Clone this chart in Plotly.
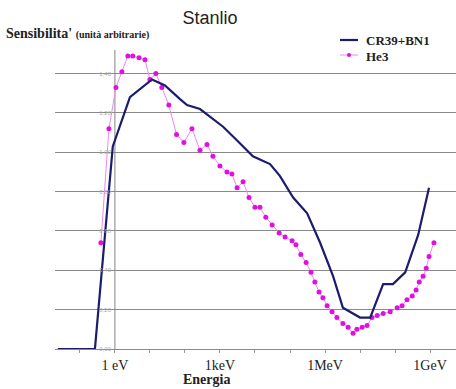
import plotly.graph_objects as go

# Energies as log10(E / eV)
cr39_logE = [-1.63, -0.57, -0.06, 0.43, 1.06, 1.43, 1.86, 2.06, 2.43, 3.09, 3.49, 3.94,
             4.43, 4.71, 5.09, 5.49, 5.86, 6.23, 6.51, 7.0, 7.29, 7.66, 7.94, 8.29, 8.66, 8.97]
cr39_sens = [0.0, 0.0, 1.03, 1.28, 1.37, 1.34, 1.27, 1.24, 1.22, 1.13, 1.06, 0.98,
             0.94, 0.88, 0.77, 0.69, 0.54, 0.37, 0.21, 0.16, 0.16, 0.33, 0.33, 0.39, 0.58, 0.82]

he3_logE = [-0.4, -0.17, 0.03, 0.2, 0.37, 0.51, 0.69, 0.86, 1.0, 1.17, 1.34, 1.54, 1.76, 1.97,
            2.2, 2.43, 2.63, 2.8, 3.0, 3.2, 3.34, 3.49, 3.66, 3.83, 4.0, 4.14, 4.31, 4.49,
            4.69, 4.86, 5.06, 5.17, 5.31, 5.46, 5.6, 5.71, 5.83, 5.94, 6.06, 6.2, 6.34, 6.51,
            6.66, 6.8, 6.91, 7.06, 7.2, 7.34, 7.49, 7.66, 7.86, 8.06, 8.2, 8.34, 8.49, 8.6,
            8.69, 8.8, 8.89, 8.97, 9.11]
he3_sens = [0.54, 1.12, 1.33, 1.41, 1.49, 1.49, 1.48, 1.47, 1.37, 1.40, 1.33, 1.24, 1.09, 1.05,
            1.12, 1.01, 1.04, 0.98, 0.93, 0.90, 0.89, 0.82, 0.85, 0.77, 0.72, 0.72, 0.67, 0.63,
            0.59, 0.57, 0.55, 0.53, 0.48, 0.44, 0.39, 0.34, 0.29, 0.26, 0.22, 0.19, 0.16, 0.13,
            0.11, 0.08, 0.10, 0.11, 0.12, 0.16, 0.17, 0.18, 0.19, 0.21, 0.22, 0.25, 0.27, 0.30,
            0.34, 0.37, 0.41, 0.47, 0.54]

series_names = ["CR39+BN1", "He3"]
x_tick_exps = [-1, 0, 1, 2, 3, 4, 5, 6, 7, 8, 9]
x_tick_text = ["", "1 eV", "", "", "1keV", "", "", "1MeV", "", "", "1GeV"]
y_tick_vals = [0.0, 0.2, 0.4, 0.6, 0.8, 1.0, 1.2, 1.4]

SERIF = "Liberation Serif"
CR_COLOR = "#1c1c6e"
HE_LINE = "#ee88ee"
HE_MARK = "#e010e0"

W, H = 456, 389
L, R, T, B = 55, 0, 50, 40
PW, PH = W - L - R, H - T - B

def px(xp):  # pixel x -> paper
    return (xp - L) / PW

def py(yp):  # pixel y -> paper
    return (H - B - yp) / PH

fig = go.Figure()
fig.add_trace(go.Scatter(
    x=[10 ** e for e in he3_logE], y=he3_sens, name=series_names[1], mode="lines+markers",
    line=dict(color=HE_LINE, width=1),
    marker=dict(color=HE_MARK, size=5, symbol="circle"),
))
fig.add_trace(go.Scatter(
    x=[10 ** e for e in cr39_logE], y=cr39_sens, name=series_names[0], mode="lines",
    line=dict(color=CR_COLOR, width=2.2),
))

# vertical axis line at 1 eV
fig.add_shape(type="line", xref="x", yref="paper", x0=1, x1=1, y0=0, y1=1,
              line=dict(color="#999999", width=1.2), layer="below")

# manual legend
fig.add_shape(type="line", xref="paper", yref="paper", x0=px(340), x1=px(358), y0=py(40), y1=py(40),
              line=dict(color=CR_COLOR, width=2.2))
fig.add_shape(type="line", xref="paper", yref="paper", x0=px(340), x1=px(358), y0=py(55), y1=py(55),
              line=dict(color=HE_LINE, width=1))
fig.add_shape(type="circle", xref="paper", yref="paper", x0=px(347), x1=px(351), y0=py(53), y1=py(57),
              fillcolor=HE_MARK, line=dict(color=HE_MARK, width=0))
fig.add_annotation(text="<b>" + series_names[0] + "</b>", xref="paper", yref="paper",
                   x=px(364), y=py(40), xanchor="left", yanchor="middle", showarrow=False,
                   font=dict(family=SERIF, size=13, color="#222222"))
fig.add_annotation(text="<b>" + series_names[1] + "</b>", xref="paper", yref="paper",
                   x=px(364), y=py(56), xanchor="left", yanchor="middle", showarrow=False,
                   font=dict(family=SERIF, size=13, color="#222222"))

fig.update_layout(
    width=W, height=H,
    margin=dict(l=L, r=R, t=T, b=B, autoexpand=False),
    plot_bgcolor="white", paper_bgcolor="white",
    separators=",.",
    title=dict(text="Stanlio", x=210 / W, xanchor="center", y=1 - 18 / H, yanchor="middle",
               font=dict(family="Liberation Sans", size=18, color="#222222")),
    showlegend=False,
    xaxis=dict(type="log", range=[-1.71, 9.74], tickvals=[10 ** e for e in x_tick_exps],
               ticktext=x_tick_text, ticks="outside", ticklen=3, tickcolor="#999999",
               showgrid=False, zeroline=False, showline=False, automargin=False,
               tickfont=dict(family=SERIF, size=14, color="#222222")),
    yaxis=dict(range=[0, 1.52], tickvals=y_tick_vals, tickformat=".2f",
               anchor="free", position=px(111), automargin=False,
               showgrid=True, gridcolor="#8a8a8a", gridwidth=1.2,
               zeroline=True, zerolinecolor="#8a8a8a", zerolinewidth=1.2,
               showline=False, ticks="",
               tickfont=dict(family="Liberation Sans", size=6, color="#aaaaaa")),
)

fig.add_annotation(text="<b>Sensibilita'</b> <b><span style='font-size:10px'>(unità arbitrarie)</span></b>",
                   xref="paper", yref="paper", x=px(4), y=py(33), xanchor="left", yanchor="middle",
                   showarrow=False, font=dict(family=SERIF, size=14, color="#222222"))
fig.add_annotation(text="<b>Energia</b>", xref="paper", yref="paper",
                   x=px(206), y=py(379), xanchor="center", yanchor="middle",
                   showarrow=False, font=dict(family=SERIF, size=14, color="#222222"))

fig.write_html("out.html", config={"displayModeBar": False},
               post_script="document.body.style.margin='0';")
